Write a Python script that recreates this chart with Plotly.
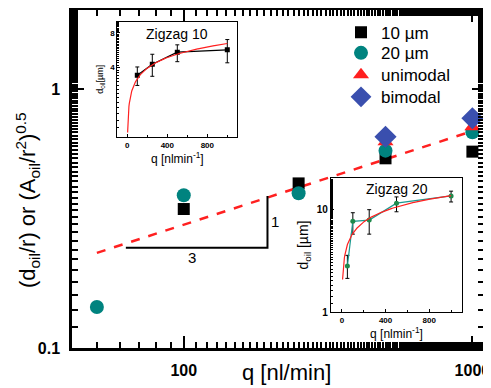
import numpy as np
import plotly.graph_objects as go

FONT = "Liberation Sans, Arial, sans-serif"

# ---- main chart data ----
q10 = [100, 250, 500, 1000]
y10 = [0.344, 0.432, 0.54, 0.573]
q20 = [50, 100, 250, 500, 1000]
y20 = [0.144, 0.389, 0.396, 0.578, 0.681]
q_uni = [500, 1000]
y_uni = [0.626, 0.715]
q_bi = [500, 1000]
y_bi = [0.654, 0.771]
fit_q = [50, 1050]
fit_y = [0.233, 0.70]
slope_q = [63, 195, 195]
slope_y = [0.244, 0.244, 0.386]

# ---- inset Zigzag 10 ----
z10_q = [100, 250, 500, 1000]
z10_d = [3.43, 4.27, 5.44, 5.7]
z10_up = [0.62, 0.95, 0.86, 1.3]
z10_dn = [0.63, 0.91, 0.94, 1.3]
z10_fit_a, z10_fit_b = 3.2, 0.306

# ---- inset Zigzag 20 ----
z20_q = [50, 100, 250, 500, 1000]
z20_d = [2.8, 7.6, 7.8, 11.4, 13.4]
z20_up = [0.75, 1.6, 2.05, 1.7, 1.5]
z20_dn = [0.68, 1.9, 2.1, 2.0, 1.7]
z20_fit_a, z20_fit_b = 5.8, 0.367

OFF = 8                      # page body margin
W, HT = 491 - OFF, 388 - OFF
L, R = 72 - OFF, 484 - OFF   # plot area in figure px
T, B = 10 - OFF, 348 - OFF
PW, PH = R - L, B - T


def px_(sx):
    return (sx - OFF - L) / PW


def py_(sy):
    return (B - (sy - OFF)) / PH


fig = go.Figure()

fig.add_trace(go.Scatter(x=fit_q, y=fit_y, mode="lines", showlegend=False,
                         line=dict(color="#ff2020", width=2.5, dash="dash")))
fig.add_trace(go.Scatter(x=slope_q, y=slope_y, mode="lines", showlegend=False,
                         line=dict(color="black", width=2)))
fig.add_trace(go.Scatter(x=q10, y=y10, mode="markers", name="10 µm", legend="legend2",
                         marker=dict(symbol="square", size=12, color="black")))
fig.add_trace(go.Scatter(x=q20, y=y20, mode="markers", name="20 µm", legend="legend3",
                         marker=dict(symbol="circle", size=14, color="#00837f")))
fig.add_trace(go.Scatter(x=q_uni, y=y_uni, mode="markers", name="unimodal", legend="legend4",
                         marker=dict(symbol="triangle-up", size=14, color="#ff1f1f")))
fig.add_trace(go.Scatter(x=q_bi, y=y_bi, mode="markers", name="bimodal", legend="legend5",
                         marker=dict(symbol="diamond", size=17, color="#3a4fae")))

# inset 1
fq = np.linspace(3, 1000, 300)
fig.add_trace(go.Scatter(x=z10_q, y=z10_d, mode="lines+markers", showlegend=False,
                         xaxis="x2", yaxis="y2",
                         marker=dict(symbol="square", size=5, color="black"),
                         line=dict(color="black", width=1.2),
                         error_y=dict(type="data", array=z10_up, arrayminus=z10_dn,
                                      color="black", thickness=1, width=2)))
fig.add_trace(go.Scatter(x=fq, y=z10_fit_a * (fq / 100) ** z10_fit_b, mode="lines",
                         showlegend=False, xaxis="x2", yaxis="y2",
                         line=dict(color="#ff2020", width=1.2)))

# inset 2
fq2 = np.linspace(6, 1000, 300)
fig.add_trace(go.Scatter(x=z20_q, y=z20_d, mode="lines+markers", showlegend=False,
                         xaxis="x3", yaxis="y3",
                         marker=dict(symbol="circle", size=5, color="#1f8a4c"),
                         line=dict(color="#1a9a90", width=1.2),
                         error_y=dict(type="data", array=z20_up, arrayminus=z20_dn,
                                      color="black", thickness=1, width=2)))
fig.add_trace(go.Scatter(x=fq2, y=z20_fit_a * (fq2 / 100) ** z20_fit_b, mode="lines",
                         showlegend=False, xaxis="x3", yaxis="y3",
                         line=dict(color="#ff2020", width=1.2)))

main_ax = dict(showline=True, linecolor="black", linewidth=2.5, mirror="ticks",
               ticks="inside", ticklen=12, tickwidth=2, tickcolor="black",
               showgrid=False, zeroline=False, automargin=False,
               tickfont=dict(family=FONT, size=16, color="black", weight="bold"),
               minor=dict(ticks="inside", ticklen=6, tickwidth=2, tickcolor="black",
                          showgrid=False))

inset_ax = dict(showline=True, linecolor="black", linewidth=1.2, mirror=True,
                ticks="inside", ticklen=3, tickwidth=1, tickcolor="black",
                showgrid=False, zeroline=False, automargin=False,
                tickfont=dict(family=FONT, size=8, color="black", weight="bold"))

leg = dict(x=px_(341), xanchor="left", yanchor="middle", bgcolor="rgba(0,0,0,0)",
           font=dict(family=FONT, size=17), itemsizing="trace")

fig.update_layout(
    width=W, height=HT,
    margin=dict(l=L, r=W - R, t=T, b=HT - B, pad=0),
    paper_bgcolor="white", plot_bgcolor="white",
    font=dict(family=FONT, color="black"),
    xaxis=dict(main_ax, type="log", range=[np.log10(41), np.log10(1097)],
               tickvals=[100, 1000], ticktext=["100", "1000"], ticklabelstandoff=6),
    yaxis=dict(main_ax, type="log", range=[-1, 0.305],
               tickvals=[0.1, 1], ticktext=["0.1", "1"], ticklabelstandoff=6),
    xaxis2=dict(inset_ax, domain=[px_(117.3), px_(237.3)], anchor="y2", range=[-100, 1100],
                tickvals=[0, 400, 800],
                minor=dict(ticks="inside", ticklen=2, dtick=200, tickcolor="black"),
                title=dict(text="q [nlmin<sup>-1</sup>]", font=dict(family=FONT, size=12), standoff=0)),
    yaxis2=dict(inset_ax, domain=[py_(137), py_(21.7)], anchor="x2", type="log", range=[0, 1],
                tickvals=[4, 8], ticktext=["4", "8"],
                minor=dict(ticks="inside", ticklen=2, tickcolor="black"),
                title=dict(text="d<sub>oil</sub>[µm]", font=dict(family=FONT, size=9), standoff=4)),
    xaxis3=dict(inset_ax, domain=[px_(331), px_(462)], anchor="y3", range=[-100, 1100],
                tickvals=[0, 400, 800],
                minor=dict(ticks="inside", ticklen=2, dtick=200, tickcolor="black"),
                title=dict(text="q [nlmin<sup>-1</sup>]", font=dict(family=FONT, size=12), standoff=0)),
    yaxis3=dict(inset_ax, domain=[py_(312), py_(178)], anchor="x3", type="log", range=[0, 1.301],
                tickvals=[1, 10], ticktext=["1", "10"],
                tickfont=dict(family=FONT, size=10, color="black", weight="bold"),
                minor=dict(ticks="inside", ticklen=2, tickcolor="black"),
                title=dict(text="d<sub>oil</sub> [µm]", font=dict(family=FONT, size=14), standoff=4)),
    legend2=dict(leg, y=py_(32.7)),
    legend3=dict(leg, y=py_(53.3)),
    legend4=dict(leg, y=py_(75.3)),
    legend5=dict(leg, y=py_(97.3)),
    annotations=[
        dict(text="q [nl/min]", x=px_(286.7), y=py_(372), xref="paper", yref="paper",
             showarrow=False, yanchor="middle", xanchor="center", font=dict(family=FONT, size=22)),
        dict(text="(d<sub>oil</sub>/r) or (A<sub>oil</sub>/r<sup>2</sup>)<sup>0.5</sup>",
             x=px_(27), y=py_(200), xref="paper", yref="paper", textangle=-90,
             showarrow=False, yanchor="middle", xanchor="center", font=dict(family=FONT, size=22)),
        dict(text="Zigzag 10", x=0.5, y=0.98, xref="x2 domain", yref="y2 domain",
             showarrow=False, yanchor="top", font=dict(family=FONT, size=14)),
        dict(text="Zigzag 20", x=0.5, y=0.99, xref="x3 domain", yref="y3 domain",
             showarrow=False, yanchor="top", font=dict(family=FONT, size=14)),
        dict(text="3", x=px_(186), y=py_(268), xref="paper", yref="paper",
             showarrow=False, font=dict(family=FONT, size=15)),
        dict(text="1", x=px_(275), y=py_(221), xref="paper", yref="paper",
             showarrow=False, font=dict(family=FONT, size=15)),
    ],
)

fig.write_html("out.html")
